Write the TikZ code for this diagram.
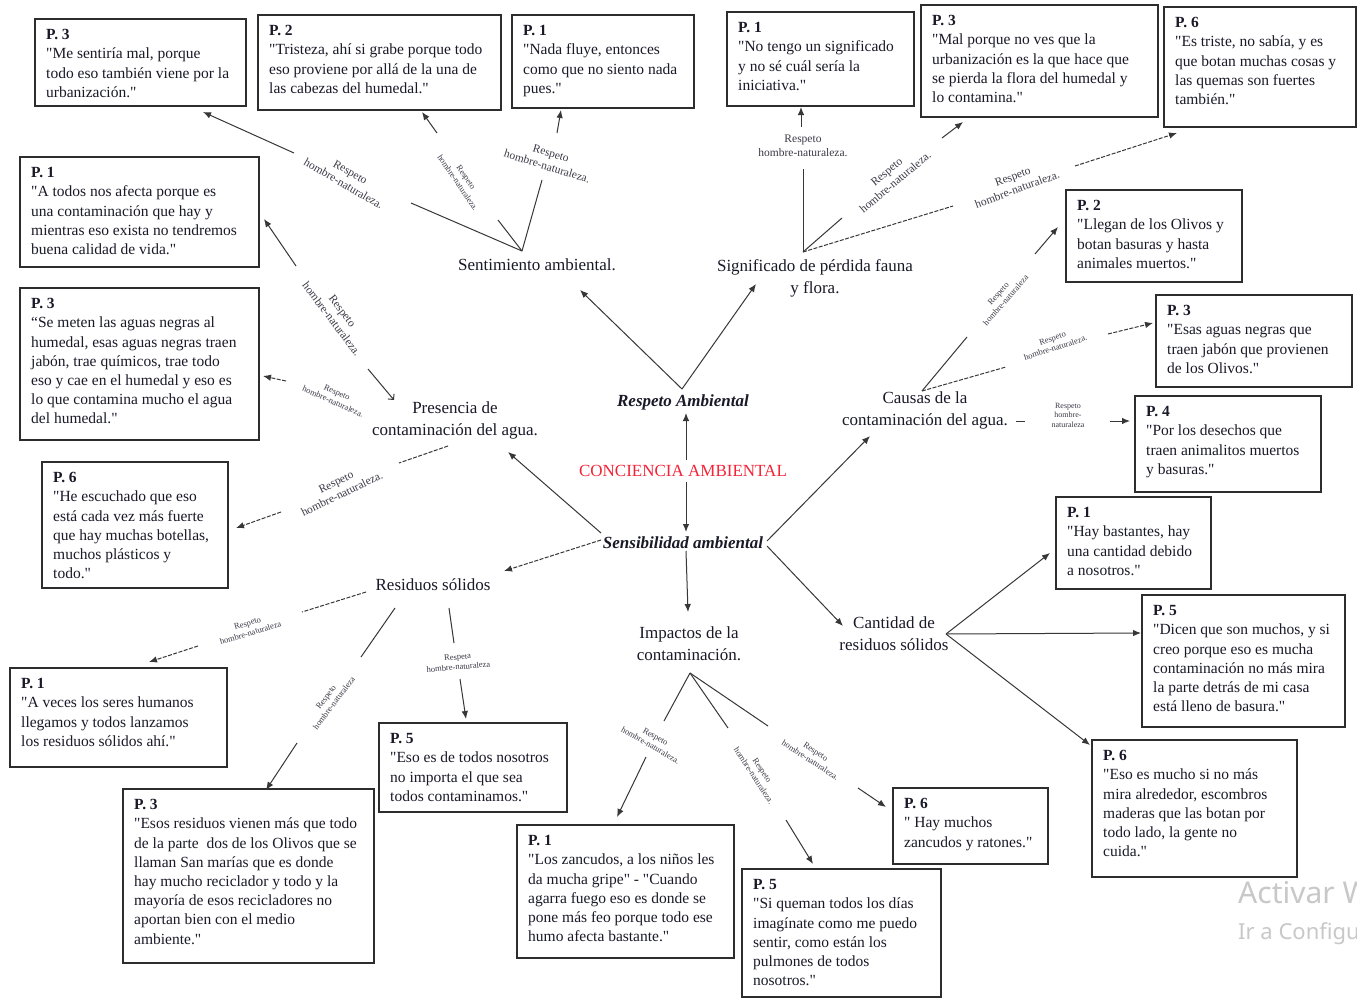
\documentclass[tikz,border=0pt]{standalone}
\usepackage{fontspec}
\setmainfont{Liberation Serif}
\newfontfamily\wmfnt{Noto Sans}
\usetikzlibrary{arrows.meta}
\definecolor{txt}{RGB}{25,25,40}
\definecolor{boxc}{RGB}{45,45,45}
\definecolor{linec}{RGB}{55,55,55}
\definecolor{redc}{RGB}{245,35,55}
\definecolor{wm}{RGB}{200,200,200}
\newcommand\qfnt{\fontsize{15.5}{19.2}\selectfont}
\newcommand\cfnt{\fontsize{17}{22}\selectfont}
\newcommand\tstrut{\rule{0pt}{13.5pt}}
\newcommand\qq{\textquotedbl}
\tikzset{
 qbox/.style={draw=boxc, line width=1.8pt, anchor=north west, inner sep=0pt, outer sep=0pt},
 qtxt/.style={anchor=north west, inner sep=0pt, align=left, font=\qfnt, text=txt},
 cat/.style={align=center, font=\cfnt, text=txt, inner sep=0pt},
 lab/.style={align=center, text=txt!85, inner sep=0pt},
 labA/.style={lab, font=\fontsize{11.5}{13.5}\selectfont},
 labB/.style={lab, font=\fontsize{8.5}{10}\selectfont},
 conn/.style={draw=linec, line width=1pt},
 arr/.style={conn, -{Latex[length=8pt,width=6.5pt]}},
 dsh/.style={dash pattern=on 4pt off 1.5pt},
}
\newcommand\qbox[6]{%
 \node[qbox, minimum width=#4pt, minimum height=#5pt] (#1) at (#2,#3) {};
 \node[qtxt] (#1t) at ([xshift=11pt,yshift=-7pt]#1.north west) {#6};}
\begin{document}
\begin{tikzpicture}[x=1pt,y=-1pt]
\useasboundingbox (0,0) rectangle (1357,998);
\fill[white] (0,0) rectangle (1357,998);

% ---------- quote boxes ----------
\qbox{A}{35}{19}{211}{87}{\textbf{P. 3}\tstrut\\\qq{}Me sentiría mal, porque\\todo eso también viene por la\\urbanización.\qq}
\qbox{B}{258}{15}{243}{95}{\textbf{P. 2}\tstrut\\\qq{}Tristeza, ahí si grabe porque todo\\eso proviene por allá de la una de\\las cabezas del humedal.\qq}
\qbox{C}{512}{15}{182}{93}{\textbf{P. 1}\tstrut\\\qq{}Nada fluye, entonces\\como que no siento nada\\pues.\qq}
\qbox{D}{727}{12}{187}{94}{\textbf{P. 1}\tstrut\\\qq{}No tengo un significado\\y no sé cuál sería la\\iniciativa.\qq}
\qbox{E}{921}{5}{237}{112}{\textbf{P. 3}\tstrut\\\qq{}Mal porque no ves que la\\urbanización es la que hace que\\se pierda la flora del humedal y\\lo contamina.\qq}
\qbox{F}{1164}{7}{192}{120}{\textbf{P. 6}\tstrut\\\qq{}Es triste, no sabía, y es\\que botan muchas cosas y\\las quemas son fuertes\\también.\qq}
\qbox{G}{20}{157}{239}{110}{\textbf{P. 1}\tstrut\\\qq{}A todos nos afecta porque es\\una contaminación que hay y\\mientras eso exista no tendremos\\buena calidad de vida.\qq}
\qbox{H}{20}{288}{239}{152}{\textbf{P. 3}\tstrut\\“Se meten las aguas negras al\\humedal, esas aguas negras traen\\jabón, trae químicos, trae todo\\eso y cae en el humedal y eso es\\lo que contamina mucho el agua\\del humedal.\qq}
\qbox{I}{42}{462}{186}{126}{\textbf{P. 6}\tstrut\\\qq{}He escuchado que eso\\está cada vez más fuerte\\que hay muchas botellas,\\muchos plásticos y\\todo.\qq}
\qbox{J}{10}{668}{217}{99}{\textbf{P. 1}\tstrut\\\qq{}A veces los seres humanos\\llegamos y todos lanzamos\\los residuos sólidos ahí.\qq}
\qbox{K}{379}{723}{188}{89}{\textbf{P. 5}\tstrut\\\qq{}Eso es de todos nosotros\\no importa el que sea\\todos contaminamos.\qq}
\qbox{L}{123}{789}{251}{174}{\textbf{P. 3}\tstrut\\\qq{}Esos residuos vienen más que todo\\de la parte\ \ dos de los Olivos que se\\llaman San marías que es donde\\hay mucho reciclador y todo y la\\mayoría de esos recicladores no\\aportan bien con el medio\\ambiente.\qq}
\qbox{M}{517}{825}{217}{133}{\textbf{P. 1}\tstrut\\\qq{}Los zancudos, a los niños les\\da mucha gripe\qq{} - \qq{}Cuando\\agarra fuego eso es donde se\\pone más feo porque todo ese\\humo afecta bastante.\qq}
\qbox{N}{742}{869}{199}{128}{\textbf{P. 5}\tstrut\\\qq{}Si queman todos los días\\imagínate como me puedo\\sentir, como están los\\pulmones de todos\\nosotros.\qq}
\qbox{O}{893}{788}{155}{76}{\textbf{P. 6}\tstrut\\\qq{} Hay muchos\\zancudos y ratones.\qq}
\qbox{P}{1092}{740}{205}{137}{\textbf{P. 6}\tstrut\\\qq{}Eso es mucho si no más\\mira alrededor, escombros\\maderas que las botan por\\todo lado, la gente no\\cuida.\qq}
\qbox{Q}{1142}{595}{203}{132}{\textbf{P. 5}\tstrut\\\qq{}Dicen que son muchos, y si\\creo porque eso es mucha\\contaminación no más mira\\la parte detrás de mi casa\\está lleno de basura.\qq}
\qbox{R}{1056}{497}{155}{92}{\textbf{P. 1}\tstrut\\\qq{}Hay bastantes, hay\\una cantidad debido\\a nosotros.\qq}
\qbox{S}{1135}{396}{186}{96}{\textbf{P. 4}\tstrut\\\qq{}Por los desechos que\\traen animalitos muertos\\y basuras.\qq}
\qbox{T}{1156}{295}{196}{92}{\textbf{P. 3}\tstrut\\\qq{}Esas aguas negras que\\traen jabón que provienen\\de los Olivos.\qq}
\qbox{U}{1066}{190}{176}{92}{\textbf{P. 2}\tstrut\\\qq{}Llegan de los Olivos y\\botan basuras y hasta\\animales muertos.\qq}

% ---------- category nodes ----------
\node[cat] (Sent) at (537,265) {Sentimiento ambiental.};
\node[cat] (Sig) at (815,278) {Significado de pérdida fauna\\y flora.};
\node[cat, font=\cfnt\bfseries\itshape] (RA) at (683,402) {Respeto Ambiental};
\node[cat, text=redc] (CA) at (683,471) {CONCIENCIA AMBIENTAL};
\node[cat, font=\cfnt\bfseries\itshape] (SA) at (683,543) {Sensibilidad ambiental};
\node[cat] (Pres) at (455,420) {Presencia de\\contaminación del agua.};
\node[cat] (Caus) at (925,410) {Causas de la\\contaminación del agua.};
\node[cat] (Res) at (433,585) {Residuos sólidos};
\node[cat] (Imp) at (689,644) {Impactos de la\\contaminación.};
\node[cat] (Cant) at (894,634) {Cantidad de\\residuos sólidos};

% ---------- coordinates ----------
\coordinate (raA) at (682,389); \coordinate (tSent) at (580,290); \coordinate (tSig) at (756,284);
\coordinate (caU) at (686,460); \coordinate (raT) at (686,413);
\coordinate (caD) at (686,482); \coordinate (saT) at (686,532);
\coordinate (saD) at (686,551); \coordinate (impT) at (688,612);
\coordinate (saL1) at (601,533); \coordinate (presT) at (508,452);
\coordinate (saL2) at (601,540); \coordinate (resT) at (504,571);
\coordinate (saR1) at (767,541); \coordinate (causT) at (870,436);
\coordinate (saR2) at (767,546); \coordinate (cantT) at (843,626);

\coordinate (sA) at (522,251);
\coordinate (s1) at (411,203); \coordinate (s1b) at (294,153); \coordinate (tA) at (203,112);
\coordinate (s2) at (498,220); \coordinate (s2b) at (437,133); \coordinate (tB) at (422,112);
\coordinate (s3) at (542,180); \coordinate (s3b) at (557,133); \coordinate (tC) at (561,110);

\coordinate (gA) at (803,252);
\coordinate (g1) at (803,169); \coordinate (g1b) at (801,127); \coordinate (tD) at (801,107);
\coordinate (g2) at (842,218); \coordinate (g2b) at (942,138); \coordinate (tE) at (963,122);
\coordinate (g3) at (953,206); \coordinate (g3b) at (1075,166); \coordinate (tF) at (1177,133);

\coordinate (p1a) at (368,369); \coordinate (p1b) at (394,400);
\coordinate (p1c) at (296,266); \coordinate (tG) at (264,219);
\coordinate (p2a) at (286,381); \coordinate (tH) at (263,376);
\coordinate (p3a) at (448,446); \coordinate (p3b) at (399,463); \coordinate (p3c) at (281,512); \coordinate (tI) at (236,528);

\coordinate (cA) at (922,391);
\coordinate (c1) at (967,337); \coordinate (c1b) at (1035,254); \coordinate (tU) at (1058,227);
\coordinate (c2) at (1006,367); \coordinate (c2b) at (1108,334); \coordinate (tT) at (1153,323);
\coordinate (c3a) at (1016,421); \coordinate (c3b) at (1025,421); \coordinate (c3c) at (1110,421); \coordinate (tS) at (1130,421);

\coordinate (r1a) at (366,592); \coordinate (r1b) at (302,612); \coordinate (r1c) at (198,646); \coordinate (tJ) at (149,662);
\coordinate (r2a) at (395,608); \coordinate (r2b) at (361,657); \coordinate (r2c) at (297,743); \coordinate (tL) at (266,790);
\coordinate (r3a) at (449,608); \coordinate (r3b) at (454,643); \coordinate (r3c) at (460,679); \coordinate (tK) at (466,719);

\coordinate (iA) at (690,673);
\coordinate (i1) at (664,721); \coordinate (i1b) at (646,757); \coordinate (tM) at (617,817);
\coordinate (i2) at (728,728); \coordinate (i2b) at (786,820); \coordinate (tN) at (813,864);
\coordinate (i3) at (768,726); \coordinate (i3b) at (858,788); \coordinate (tO) at (886,807);

\coordinate (kA) at (946,634);
\coordinate (tR) at (1050,553); \coordinate (tQ) at (1141,633); \coordinate (tP) at (1090,745);

% ---------- central connectors ----------
\draw[arr] (raA) -- (tSent);
\draw[arr] (raA) -- (tSig);
\draw[arr] (caU) -- (raT);
\draw[arr] (caD) -- (saT);
\draw[arr] (saD) -- (impT);
\draw[arr] (saL1) -- (presT);
\draw[arr,dsh] (saL2) -- (resT);
\draw[arr] (saR1) -- (causT);
\draw[arr] (saR2) -- (cantT);

% ---------- Sentimiento ----------
\draw[conn] (sA) -- (s1); \draw[arr] (s1b) -- (tA);
\draw[conn] (sA) -- (s2); \draw[arr] (s2b) -- (tB);
\draw[conn] (sA) -- (s3); \draw[arr] (s3b) -- (tC);
\node[labA, rotate=-30] (L1) at (347,178) {Respeto\\hombre-naturaleza.};
\node[labB, rotate=-56] (L2) at (462,180) {Respeto\\hombre-naturaleza.};
\node[labA, rotate=-17] (L3) at (549,160) {Respeto\\hombre-naturaleza.};

% ---------- Significado ----------
\draw[conn] (gA) -- (g1); \draw[arr] (g1b) -- (tD);
\draw[conn] (gA) -- (g2); \draw[arr] (g2b) -- (tE);
\draw[conn,dsh] (gA) -- (g3); \draw[arr,dsh] (g3b) -- (tF);
\node[labA] (L4) at (803,146) {Respeto\\hombre-naturaleza.};
\node[labA, rotate=40] (L5) at (891,177) {Respeto\\hombre-naturaleza.};
\node[labA, rotate=20] (L6) at (1015,183) {Respeto\\hombre-naturaleza.};

% ---------- Presencia ----------
\draw[conn, -{Straight Barb[length=4pt,width=8pt]}] (p1a) -- (p1b);
\draw[arr] (p1c) -- (tG);
\node[labA, rotate=-53] (L7) at (337,315) {Respeto\\hombre-naturaleza.};
\draw[arr,dsh] (p2a) -- (tH);
\node[labB, rotate=-24] (L8) at (335,397) {Respeto\\hombre-naturaleza.};
\draw[conn,dsh] (p3a) -- (p3b); \draw[arr,dsh] (p3c) -- (tI);
\node[labA, rotate=26] (L9) at (339,488) {Respeto\\hombre-naturaleza.};

% ---------- Causas ----------
\draw[conn] (cA) -- (c1); \draw[arr] (c1b) -- (tU);
\node[labB, rotate=49] (L10) at (1002,297) {Respeto\\hombre-naturaleza};
\draw[conn,dsh] (cA) -- (c2); \draw[arr,dsh] (c2b) -- (tT);
\node[labB, rotate=18] (L11) at (1054,343) {Respeto\\hombre-naturaleza.};
\draw[conn] (c3a) -- (c3b); \draw[arr] (c3c) -- (tS);
\node[lab, font=\fontsize{8}{9.5}\selectfont] (L12) at (1068,415) {Respeto\\hombre-\\naturaleza};

% ---------- Residuos ----------
\draw[conn,dsh] (r1a) -- (r1b); \draw[arr,dsh] (r1c) -- (tJ);
\node[labB, rotate=17] (L13) at (249,628) {Respeto\\hombre-naturaleza};
\draw[conn] (r2a) -- (r2b); \draw[arr] (r2c) -- (tL);
\node[labB, rotate=53] (L14) at (330,700) {Respeto\\hombre-naturaleza};
\draw[conn] (r3a) -- (r3b); \draw[arr] (r3c) -- (tK);
\node[labB, rotate=5] (L15) at (458,662) {Respeta\\hombre-naturaleza};

% ---------- Impactos ----------
\draw[conn] (iA) -- (i1); \draw[arr] (i1b) -- (tM);
\node[labB, rotate=-30] (L16) at (653,741) {Respeto\\hombre-naturaleza.};
\draw[conn] (iA) -- (i2); \draw[arr] (i2b) -- (tN);
\node[labB, rotate=-57] (L17) at (758,773) {Respeto\\hombre-naturaleza.};
\draw[conn] (iA) -- (i3); \draw[arr] (i3b) -- (tO);
\node[labB, rotate=-33] (L18) at (813,756) {Respeto\\hombre-naturaleza.};

% ---------- Cantidad ----------
\draw[arr] (kA) -- (tR);
\draw[arr] (kA) -- (tQ);
\draw[arr] (kA) -- (tP);

% ---------- watermark ----------
\begin{scope}
\clip (0,0) rectangle (1357,998);
\node[anchor=base west, inner sep=0pt, text=wm, font=\wmfnt\fontsize{30}{30}\selectfont] (w1) at (1238,903) {Activar Windows};
\node[anchor=base west, inner sep=0pt, text=wm, font=\wmfnt\fontsize{22}{22}\selectfont] (w2) at (1238,939) {Ir a Configuración};
\end{scope}
\end{tikzpicture}
\end{document}
